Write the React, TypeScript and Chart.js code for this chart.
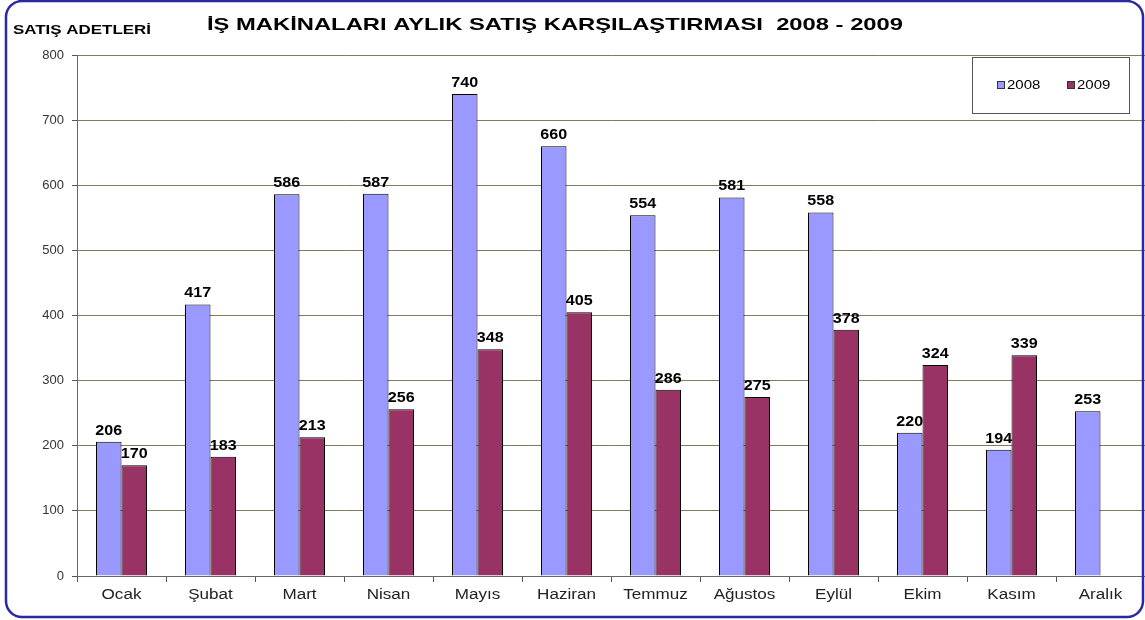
import React, { useEffect, useRef } from "react";
import { Chart, registerables } from "chart.js";

Chart.register(...registerables);

const months = ["Ocak", "Şubat", "Mart", "Nisan", "Mayıs", "Haziran", "Temmuz", "Ağustos", "Eylül", "Ekim", "Kasım", "Aralık"];
const sales2008 = [206, 417, 586, 587, 740, 660, 554, 581, 558, 220, 194, 253];
const sales2009 = [170, 183, 213, 256, 348, 405, 286, 275, 378, 324, 339, null];
const seriesNames = ["2008", "2009"];
const chartTitle = "İŞ MAKİNALARI AYLIK SATIŞ KARŞILAŞTIRMASI  2008 - 2009";
const yAxisTitle = "SATIŞ ADETLERİ";

const FONT = "'Liberation Sans', Arial, sans-serif";
const COLORS = ["#9999FF", "#993366"];

function drawStretched(ctx: CanvasRenderingContext2D, text: string, x: number, y: number, font: string, sx: number, align: "left" | "center" | "right", baseline: CanvasTextBaseline) {
  ctx.save();
  ctx.font = font;
  ctx.textBaseline = baseline;
  ctx.textAlign = align;
  ctx.translate(x, y);
  ctx.scale(sx, 1);
  ctx.fillText(text, 0, 0);
  ctx.restore();
}

function fitWidth(ctx: CanvasRenderingContext2D, text: string, font: string, target: number) {
  ctx.save();
  ctx.font = font;
  const w = ctx.measureText(text).width;
  ctx.restore();
  return target / w;
}

const decorPlugin = {
  id: "decor",
  beforeDraw(chart: any) {
    const ctx = chart.ctx;
    ctx.save();
    ctx.fillStyle = "#ffffff";
    ctx.fillRect(0, 0, chart.width, chart.height);
    ctx.restore();
  },
  afterDraw(chart: any) {
    const ctx = chart.ctx as CanvasRenderingContext2D;
    ctx.save();
    // frame
    ctx.strokeStyle = "#2a2aa0";
    ctx.lineWidth = 2.5;
    ctx.beginPath();
    (ctx as any).roundRect(6, 1, 1137, 616, 16);
    ctx.stroke();
    // title
    ctx.fillStyle = "#000";
    const tf = `bold 17px ${FONT}`;
    drawStretched(ctx, chartTitle, 207, 25, tf, fitWidth(ctx, chartTitle, tf, 696), "left", "middle");
    const yf = `bold 12px ${FONT}`;
    drawStretched(ctx, yAxisTitle, 13, 31, yf, fitWidth(ctx, yAxisTitle, yf, 138), "left", "middle");
    // legend
    ctx.strokeStyle = "#555";
    ctx.lineWidth = 1;
    ctx.strokeRect(972.5, 57.5, 157, 56);
    const lx = [997, 1067];
    const lf = `12px ${FONT}`;
    seriesNames.forEach((n, i) => {
      ctx.fillStyle = COLORS[i];
      ctx.fillRect(lx[i], 81, 8, 8);
      ctx.strokeStyle = "#333";
      ctx.strokeRect(lx[i] + 0.5, 81.5, 7, 7);
      ctx.fillStyle = "#000";
      drawStretched(ctx, n, lx[i] + 10, 86, lf, 1.25, "left", "middle");
    });
    // x labels
    const xs = chart.scales.x;
    ctx.fillStyle = "#222";
    months.forEach((m, i) => {
      const px = xs.getPixelForValue(i);
      drawStretched(ctx, m, px, 595, `14px ${FONT}`, 1.22, "center", "middle");
    });
    ctx.restore();
  },
  afterDatasetsDraw(chart: any) {
    const ctx = chart.ctx as CanvasRenderingContext2D;
    ctx.save();
    ctx.fillStyle = "#000";
    chart.data.datasets.forEach((ds: any, di: number) => {
      const meta = chart.getDatasetMeta(di);
      meta.data.forEach((el: any, i: number) => {
        const v = ds.data[i];
        if (v == null) return;
        drawStretched(ctx, String(v), el.x, el.y - 4, `bold 14px ${FONT}`, 1.15, "center", "bottom");
      });
    });
    ctx.restore();
  },
};

export default function App() {
  const ref = useRef<HTMLCanvasElement>(null);
  useEffect(() => {
    document.body.style.margin = "0";
    const chart = new Chart(ref.current!, {
      type: "bar",
      data: {
        labels: months,
        datasets: [
          { label: seriesNames[0], data: sales2008, backgroundColor: COLORS[0], borderColor: "#000", borderWidth: 1 },
          { label: seriesNames[1], data: sales2009 as any, backgroundColor: COLORS[1], borderColor: "#000", borderWidth: 1 },
        ],
      },
      options: {
        animation: false,
        responsive: false,
        layout: { padding: { top: 55, left: 0, right: 0, bottom: 0 } },
        datasets: { bar: { categoryPercentage: 0.573, barPercentage: 1 } },
        plugins: { legend: { display: false }, title: { display: false }, tooltip: { enabled: false } },
        scales: {
          x: {
            grid: { display: true, drawOnChartArea: false, drawTicks: true, tickLength: 6, color: "#555", offset: true },
            border: { display: true, color: "#666", width: 1 },
            ticks: { font: { family: FONT, size: 14 }, color: "rgba(0,0,0,0)", padding: 4, maxRotation: 0 },
            afterFit: (s: any) => { s.height = 44; },
          },
          y: {
            min: 0,
            max: 800,
            ticks: { stepSize: 100, font: { family: FONT, size: 13 }, color: "#333", padding: 8 },
            grid: { color: "#7d7d5f", tickColor: "#555", tickLength: 5, lineWidth: 1 },
            border: { display: true, color: "#666", width: 1 },
            afterFit: (s: any) => { s.width = 77; },
          },
        },
      },
      plugins: [decorPlugin],
    });
    return () => chart.destroy();
  }, []);
  return (
    <div style={{ position: "fixed", left: 0, top: 0, width: 1145, height: 620 }}>
      <canvas ref={ref} width={1145} height={620} style={{ display: "block" }} />
    </div>
  );
}
